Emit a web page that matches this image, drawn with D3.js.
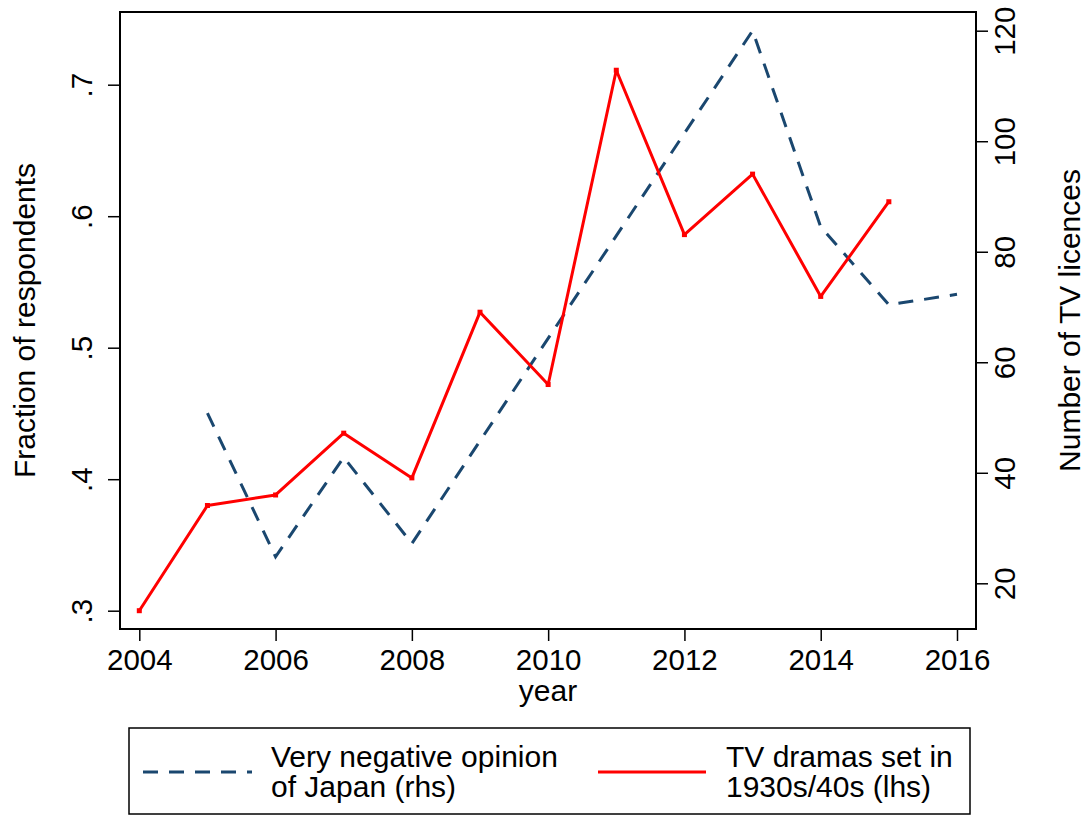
<!DOCTYPE html>
<html>
<head>
<meta charset="utf-8">
<script src="https://cdn.jsdelivr.net/npm/d3@7"></script>
<style>
  body { margin: 0; background: #fff; }
  text { font-family: "Liberation Sans", Arial, sans-serif; fill: #000; }
</style>
</head>
<body>
<svg id="chart" width="1088" height="816"></svg>
<script>
// red line, left axis (fraction of respondents)
const dramaYears = [2004, 2005, 2006, 2007, 2008, 2009, 2010, 2011, 2012, 2013, 2014, 2015];
const dramaValues = [0.300, 0.380, 0.388, 0.435, 0.401, 0.527, 0.472, 0.711, 0.586, 0.632, 0.539, 0.611];

// blue dashed line, right axis (number of TV licences)
const opinionYears = [2005, 2006, 2007, 2008, 2013, 2014, 2015, 2016];
const opinionValues = [50.8, 24.8, 42.8, 27.2, 120.0, 84.5, 70.4, 72.3];

const xTicks = [2004, 2006, 2008, 2010, 2012, 2014, 2016];
const leftTicks = [0.3, 0.4, 0.5, 0.6, 0.7];
const leftTickLabels = [".3", ".4", ".5", ".6", ".7"];
const rightTicks = [20, 40, 60, 80, 100, 120];

const legendLabels = [
  ["Very negative opinion", "of Japan (rhs)"],
  ["TV dramas set in", "1930s/40s (lhs)"],
];

const plot = { left: 120, right: 976, top: 12, bottom: 629 };
const blue = "#1a476f", red = "#ff0000";

const svg = d3.select("#chart");

const x = d3.scaleLinear().domain([2004, 2016]).range([139.3, 957]);
const yL = d3.scaleLinear().domain([0.3, 0.7]).range([610.7, 84.7]);
const yR = d3.scaleLinear().domain([20, 120]).range([583.3, 30.7]);

// frame
svg.append("rect")
  .attr("x", plot.left).attr("y", plot.top)
  .attr("width", plot.right - plot.left).attr("height", plot.bottom - plot.top)
  .attr("fill", "none").attr("stroke", "#000").attr("stroke-width", 2);

// x axis
const xAxis = svg.append("g")
  .attr("transform", `translate(0,${plot.bottom})`)
  .call(d3.axisBottom(x).tickValues(xTicks).tickFormat(d3.format("d")).tickSize(12).tickPadding(6));
xAxis.select(".domain").remove();
xAxis.selectAll(".tick line").attr("stroke-width", 1.5);
xAxis.selectAll(".tick text")
  .attr("y", 41).attr("dy", null)
  .style("font-size", "29.5px");

// left axis
const lAxis = svg.append("g")
  .attr("transform", `translate(${plot.left},0)`)
  .call(d3.axisLeft(yL).tickValues(leftTicks).tickFormat((d, i) => leftTickLabels[i]).tickSize(12));
lAxis.select(".domain").remove();
lAxis.selectAll(".tick line").attr("stroke-width", 1.5);
lAxis.selectAll(".tick text")
  .attr("x", null).attr("dy", null)
  .attr("text-anchor", "middle")
  .attr("transform", "translate(-28.3,0) rotate(-90)")
  .style("font-size", "29.5px");

// right axis
const rAxis = svg.append("g")
  .attr("transform", `translate(${plot.right},0)`)
  .call(d3.axisRight(yR).tickValues(rightTicks).tickFormat(d3.format("d")).tickSize(12));
rAxis.select(".domain").remove();
rAxis.selectAll(".tick line").attr("stroke-width", 1.5);
rAxis.selectAll(".tick text")
  .attr("x", null).attr("dy", null)
  .attr("text-anchor", "middle")
  .attr("transform", "translate(39,0) rotate(-90)")
  .style("font-size", "29.5px");

// axis titles
svg.append("text")
  .attr("transform", `translate(35,${(plot.top + plot.bottom) / 2}) rotate(-90)`)
  .attr("text-anchor", "middle").style("font-size", "30px")
  .text("Fraction of respondents");
svg.append("text")
  .attr("transform", `translate(1080,${(plot.top + plot.bottom) / 2}) rotate(-90)`)
  .attr("text-anchor", "middle").style("font-size", "30px")
  .text("Number of TV licences");
svg.append("text")
  .attr("x", (plot.left + plot.right) / 2).attr("y", 701)
  .attr("text-anchor", "middle").style("font-size", "30px")
  .text("year");

// blue dashed series
const opinion = opinionYears.map((yr, i) => [yr, opinionValues[i]]);
svg.append("path")
  .datum(opinion)
  .attr("fill", "none").attr("stroke", blue).attr("stroke-width", 3)
  .attr("stroke-dasharray", "15,11")
  .attr("d", d3.line().x(d => x(d[0])).y(d => yR(d[1])));

// red series
const drama = dramaYears.map((yr, i) => [yr, dramaValues[i]]);
svg.append("path")
  .datum(drama)
  .attr("fill", "none").attr("stroke", red).attr("stroke-width", 3)
  .attr("stroke-linejoin", "round")
  .attr("d", d3.line().x(d => x(d[0])).y(d => yL(d[1])));
svg.selectAll("rect.mk")
  .data(drama)
  .join("rect")
  .attr("class", "mk")
  .attr("x", d => x(d[0]) - 2.5).attr("y", d => yL(d[1]) - 2.5)
  .attr("width", 5).attr("height", 5)
  .attr("fill", red);

// legend
svg.append("rect")
  .attr("x", 129).attr("y", 728).attr("width", 841).attr("height", 86)
  .attr("fill", "#fff").attr("stroke", "#000").attr("stroke-width", 1.5);

const legendItems = [
  { x1: 143, x2: 252, color: blue, dash: "15,11", tx: 271, lines: legendLabels[0] },
  { x1: 598, x2: 706, color: red, dash: null, tx: 726, lines: legendLabels[1] },
];
legendItems.forEach(item => {
  svg.append("line")
    .attr("x1", item.x1).attr("x2", item.x2)
    .attr("y1", 772).attr("y2", 772)
    .attr("stroke", item.color).attr("stroke-width", 3)
    .attr("stroke-dasharray", item.dash);
  const t = svg.append("text").attr("x", item.tx).attr("y", 767).style("font-size", "30px");
  item.lines.forEach((ln, i) => {
    t.append("tspan").attr("x", item.tx).attr("y", 767 + i * 30.3).text(ln);
  });
});
</script>
</body>
</html>
